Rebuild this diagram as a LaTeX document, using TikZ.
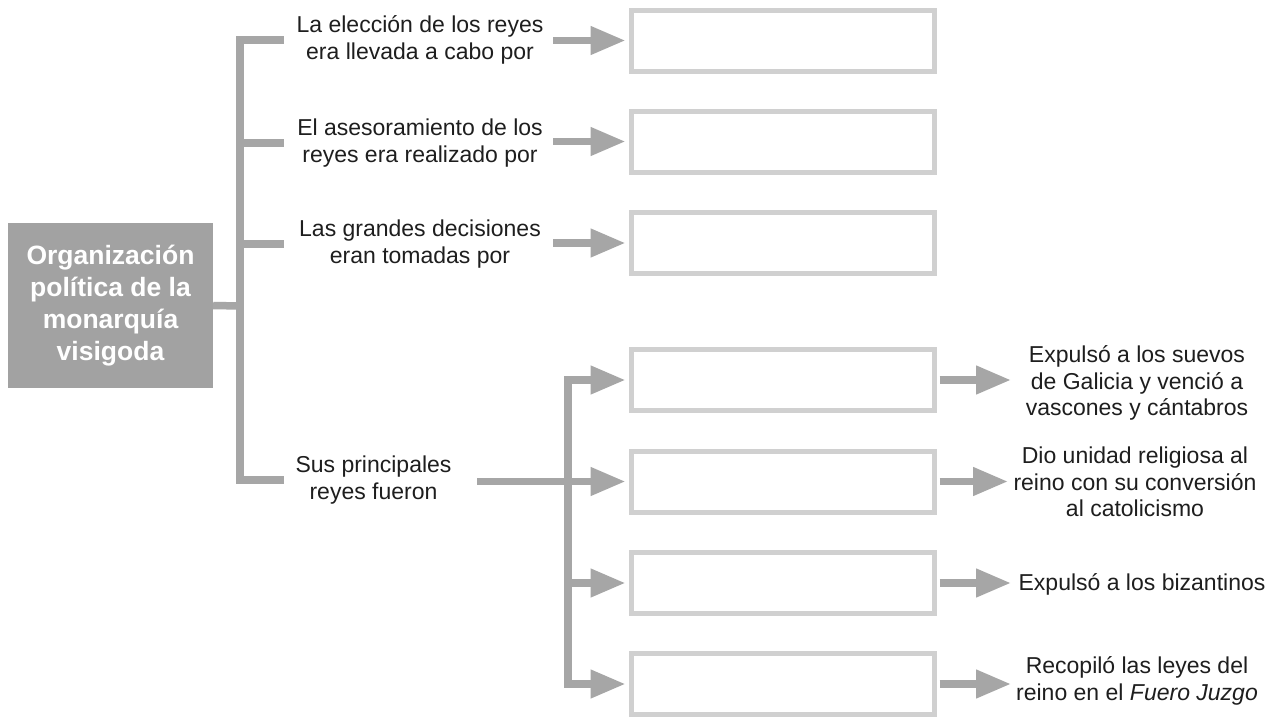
\documentclass[tikz,border=0pt]{standalone}
\usepackage{fontspec}
\setmainfont{Liberation Sans}
\usetikzlibrary{arrows.meta}
\definecolor{connc}{HTML}{A6A6A6}
\definecolor{boxc}{HTML}{D0D0D0}
\definecolor{mainc}{HTML}{A2A2A2}
\definecolor{txt}{HTML}{1E1E1E}
\tikzset{
 lbl/.style={font=\fontsize{23}{26.5}\selectfont, text=txt, align=center, inner sep=0pt},
 emptybox/.style={draw=boxc, line width=5pt, minimum width=303pt, minimum height=61pt, inner sep=0pt},
 mainbox/.style={fill=mainc, minimum width=205pt, minimum height=165pt, inner sep=0pt, text=white, font=\fontsize{26.5}{32}\selectfont\bfseries, align=center},
 conn/.style={draw=connc, line width=7.5pt, line join=miter},
 arr/.style={conn, -{Triangle[length=35pt,width=27pt]}},
}
\begin{document}
\begin{tikzpicture}[x=1pt,y=-1pt]
\fill[white] (0,0) rectangle (1278,718);
\path[use as bounding box] (0,0) rectangle (1278,718);
% main box
\node[mainbox] (m) at (110.5,305.5) {Organización\\política de la\\monarquía\\visigoda};
% left labels
\node[lbl] (t1) at (420,40) {La elección de los reyes\\era llevada a cabo por};
\node[lbl] (t2) at (420,143) {El asesoramiento de los\\reyes era realizado por};
\node[lbl] (t3) at (420,244) {Las grandes decisiones\\eran tomadas por};
\node[lbl] (t4) at (373.5,480) {Sus principales\\reyes fueron};
% left bracket
\coordinate (J) at (240,306);
\coordinate (c1) at (284,40);
\coordinate (c2) at (284,143);
\coordinate (c3) at (284,244);
\coordinate (c4) at (284,480);
\draw[conn] (m.east) -- (J);
\draw[conn] (J) |- (c1);
\draw[conn] (J) |- (c4);
\draw[conn] (J|-c2) -- (c2);
\draw[conn] (J|-c3) -- (c3);
% empty boxes
\node[emptybox] (b1) at (783,40.5) {};
\node[emptybox] (b2) at (783,141.5) {};
\node[emptybox] (b3) at (783,243) {};
\node[emptybox] (b4) at (783,380) {};
\node[emptybox] (b5) at (783,481.5) {};
\node[emptybox] (b6) at (783,583) {};
\node[emptybox] (b7) at (783,684) {};
% top arrows
\coordinate (a1) at (553,40.5);
\coordinate (a2) at (553,141.5);
\coordinate (a3) at (553,243);
\draw[arr, shorten >=3.5pt] (a1) -- (b1.west);
\draw[arr, shorten >=3.5pt] (a2) -- (b2.west);
\draw[arr, shorten >=3.5pt] (a3) -- (b3.west);
% bottom bracket
\coordinate (s4) at (477,481.5);
\coordinate (K) at (568,481.5);
\draw[conn] (s4) -- (K);
\draw[arr, shorten >=3.5pt] (K) |- (b4.west);
\draw[arr, shorten >=3.5pt] (K) |- (b7.west);
\draw[arr, shorten >=3.5pt] (K) -- (b5.west);
\draw[arr, shorten >=3.5pt] (K|-b6.west) -- (b6.west);
% right labels
\node[lbl] (r1) at (1137,383) {Expulsó a los suevos\\de Galicia y venció a\\vascones y cántabros};
\node[lbl] (r2) at (1135,482) {Dio unidad religiosa al\\reino con su conversión\\al catolicismo};
\node[lbl] (r3) at (1142,584) {Expulsó a los bizantinos};
\node[lbl] (r4) at (1137,681) {Recopiló las leyes del\\reino en el \textit{Fuero Juzgo}};
% right arrows
\coordinate (e1) at (1011,380);
\coordinate (e2) at (1008,481.5);
\coordinate (e3) at (1011,583);
\coordinate (e4) at (1011,684);
\draw[arr, shorten <=2.5pt] (b4.east) -- (e1);
\draw[arr, shorten <=2.5pt] (b5.east) -- (e2);
\draw[arr, shorten <=2.5pt] (b6.east) -- (e3);
\draw[arr, shorten <=2.5pt] (b7.east) -- (e4);
\end{tikzpicture}
\end{document}
